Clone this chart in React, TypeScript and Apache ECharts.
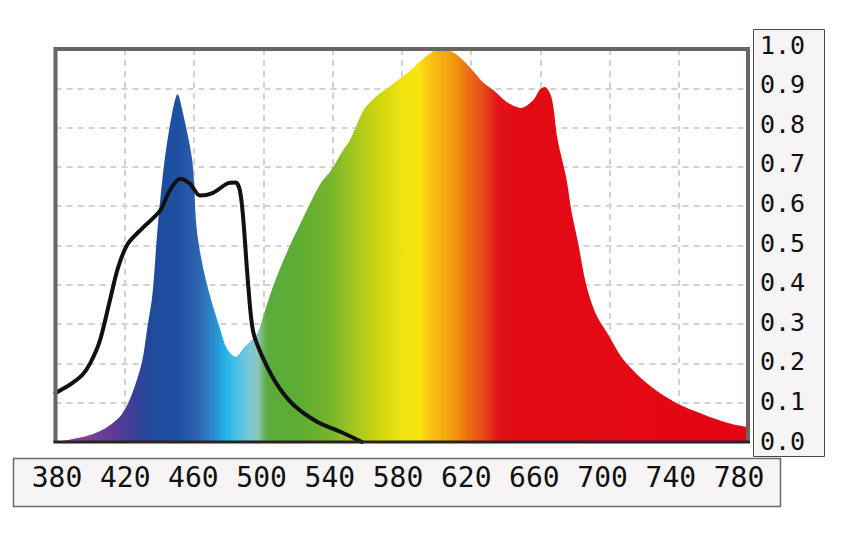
import React, { useEffect, useRef } from "react";
import * as echarts from "echarts";

// Wavelength axis (nm) and relative intensity axis
const xTicks = [380, 420, 460, 500, 540, 580, 620, 660, 700, 740, 780];
const yTicks = [0.0, 0.1, 0.2, 0.3, 0.4, 0.5, 0.6, 0.7, 0.8, 0.9, 1.0];

// LED emission spectrum (filled, rainbow-coloured)
const specWl = [
  380, 388, 398, 408, 418, 424, 430, 433, 436, 439, 443, 447.5, 450.5, 453.5,
  459, 461.5, 464.5, 469, 475, 479, 484, 489.5, 494, 497, 500, 506, 514, 523,
  533, 539, 546, 550, 558, 566, 574, 583.5, 591, 598.5, 604, 612, 620, 627.5,
  633, 641, 649, 656, 659.5, 662.5, 666.5, 670, 675, 678, 682, 685.5, 689, 693,
  699, 708, 722.5, 737.5, 755, 770.5, 780,
];
const specVal = [
  0.0, 0.006, 0.015, 0.033, 0.069, 0.12, 0.205, 0.29, 0.376, 0.545, 0.716, 0.84,
  0.885, 0.84, 0.716, 0.545, 0.46, 0.376, 0.289, 0.238, 0.217, 0.243, 0.263,
  0.28, 0.32, 0.4, 0.486, 0.57, 0.657, 0.69, 0.742, 0.767, 0.844, 0.882, 0.908,
  0.94, 0.97, 0.995, 1.0, 0.985, 0.95, 0.913, 0.895, 0.864, 0.85, 0.87, 0.895,
  0.903, 0.877, 0.77, 0.673, 0.588, 0.504, 0.42, 0.362, 0.318, 0.275, 0.21,
  0.146, 0.102, 0.069, 0.046, 0.038,
];

// Sensitivity curve (black line)
const sensWl = [
  380, 388, 395.5, 400, 405.5, 411.3, 416, 421.7, 430.4, 440.3, 446, 452, 457.7,
  463.5, 471, 479, 484, 486.5, 488.4, 491.3, 494.2, 500, 508, 517.4, 531.3,
  544.6, 557,
];
const sensVal = [
  0.125, 0.145, 0.171, 0.2, 0.256, 0.358, 0.442, 0.504, 0.545, 0.588, 0.64,
  0.67, 0.657, 0.627, 0.634, 0.657, 0.66, 0.64, 0.57, 0.4, 0.28, 0.212, 0.146,
  0.095, 0.051, 0.026, 0.0,
];

// Colour of the fill at each wavelength (style)
const colorStops: [number, string][] = [
  [380, "#8a4a9c"],
  [400, "#7a3f95"],
  [415, "#5a3a95"],
  [425, "#3a3f98"],
  [435, "#1f4a9c"],
  [450, "#1e50a2"],
  [462, "#2c62ad"],
  [470, "#2b85c8"],
  [478, "#24b2e8"],
  [485, "#4cc0e6"],
  [492, "#7cc8d8"],
  [497, "#8ec6b8"],
  [502, "#5aac3c"],
  [520, "#5cac34"],
  [540, "#78b52c"],
  [550, "#9cc422"],
  [568, "#d4d70e"],
  [580, "#eee20f"],
  [590, "#f7e40f"],
  [597, "#f8c012"],
  [605, "#f5a812"],
  [612, "#f09010"],
  [618, "#ec7012"],
  [627, "#e64a18"],
  [635, "#e2161a"],
  [645, "#e30a16"],
  [780, "#e30613"],
];

const monoFont = "'DejaVu Sans Mono', monospace";

export default function App() {
  const ref = useRef<HTMLDivElement>(null);

  useEffect(() => {
    if (!ref.current) return;
    const chart = echarts.init(ref.current, undefined, { renderer: "svg" });
    const xMin = xTicks[0];
    const xMax = xTicks[xTicks.length - 1];
    const gradient = new echarts.graphic.LinearGradient(
      0,
      0,
      1,
      0,
      colorStops.map(([w, c]) => ({ offset: (w - xMin) / (xMax - xMin), color: c }))
    );
    const split = {
      show: true,
      lineStyle: { color: "#d2d2d2", width: 2, type: [6, 5] as any },
    };
    const L = 55.5, R = 748, T = 49, B = 442;
    const option: any = {
      animation: false,
      backgroundColor: "#ffffff",
      graphic: [
        {
          type: "rect",
          z: 1,
          shape: { x: 753.5, y: 29.5, width: 71, height: 427 },
          style: { fill: "#f6f4f5", stroke: "#4a4a4a", lineWidth: 1 },
        },
        {
          type: "rect",
          z: 1,
          shape: { x: 13.5, y: 458.5, width: 767, height: 48 },
          style: { fill: "#f6f4f5", stroke: "#6a6a6a", lineWidth: 1.5 },
        },
        {
          type: "polyline",
          z: 20,
          shape: { points: [[L, B], [L, T], [R, T], [R, B]] },
          style: { fill: null, stroke: "#6a6464", lineWidth: 4 },
        },
        {
          type: "line",
          z: 20,
          shape: { x1: L - 2, y1: B, x2: R + 2, y2: B },
          style: { stroke: "#2a2323", lineWidth: 3 },
        },
      ],
      grid: [
        {
          left: L,
          right: 861 - R,
          top: T,
          bottom: 541 - B,
          show: true,
          backgroundColor: "#ffffff",
          borderWidth: 0,
        },
        { left: 57, width: 682, top: 45, height: 396, show: false },
      ],
      xAxis: [
        {
          type: "value",
          gridIndex: 0,
          min: xMin,
          max: xMax,
          interval: 40,
          axisLine: { show: false },
          axisTick: { show: false },
          axisLabel: { show: false },
          splitLine: split,
        },
        {
          type: "value",
          gridIndex: 1,
          min: xMin,
          max: xMax,
          interval: 40,
          z: 10,
          axisLine: { show: false },
          axisTick: { show: false },
          splitLine: { show: false },
          axisLabel: {
            show: true,
            showMinLabel: true,
            showMaxLabel: true,
            margin: 22,
            fontSize: 28,
            fontFamily: monoFont,
            color: "#111111",
            formatter: (v: number) => String(Math.round(v)),
          },
        },
      ],
      yAxis: [
        {
          type: "value",
          gridIndex: 0,
          min: yTicks[0],
          max: yTicks[yTicks.length - 1],
          interval: 0.1,
          axisLine: { show: false },
          axisTick: { show: false },
          axisLabel: { show: false },
          splitLine: split,
        },
        {
          type: "value",
          gridIndex: 1,
          position: "right",
          min: yTicks[0],
          max: yTicks[yTicks.length - 1],
          interval: 0.1,
          z: 10,
          axisLine: { show: false },
          axisTick: { show: false },
          splitLine: { show: false },
          axisLabel: {
            show: true,
            showMinLabel: true,
            showMaxLabel: true,
            margin: 21,
            align: "left",
            fontSize: 25,
            fontFamily: monoFont,
            color: "#111111",
            formatter: (v: number) => v.toFixed(1),
          },
        },
      ],
      series: [
        {
          type: "line",
          xAxisIndex: 0,
          yAxisIndex: 0,
          data: specWl.map((w, i) => [w, specVal[i]]),
          smooth: 0.3,
          showSymbol: false,
          lineStyle: { width: 0 },
          areaStyle: { color: gradient, opacity: 1 },
          z: 2,
        },
        {
          type: "line",
          xAxisIndex: 0,
          yAxisIndex: 0,
          data: sensWl.map((w, i) => [w, sensVal[i]]),
          smooth: 0.3,
          showSymbol: false,
          lineStyle: { color: "#111111", width: 4, cap: "round", join: "round" },
          z: 3,
        },
      ],
    };
    chart.setOption(option);
    return () => chart.dispose();
  }, []);

  return (
    <div
      ref={ref}
      style={{ position: "absolute", left: 0, top: 0, width: 861, height: 541 }}
    />
  );
}
